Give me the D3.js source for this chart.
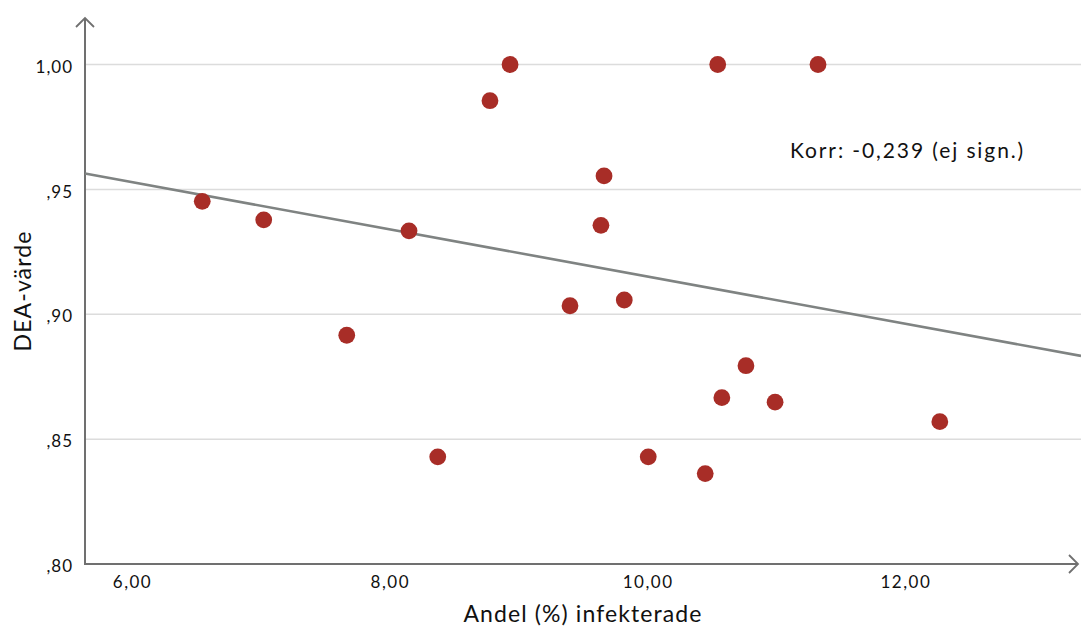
<!DOCTYPE html>
<html>
<head>
<meta charset="utf-8">
<script src="https://cdn.jsdelivr.net/npm/d3@7"></script>
<style>
  html, body { margin: 0; padding: 0; background: #fff; }
  svg { display: block; font-family: Lato, "Noto Sans", sans-serif; }
</style>
</head>
<body>
<svg id="chart" width="1081" height="628"></svg>
<script>
// ---- data ----
const infected = [6.545, 7.022, 7.666, 8.149, 8.372, 8.777, 8.933, 9.398, 9.638, 9.662,
                  9.819, 10.005, 10.447, 10.544, 10.576, 10.763, 10.989, 11.322, 12.267];
const deaValue = [0.9452, 0.9378, 0.8916, 0.9334, 0.8429, 0.9855, 1.000, 0.9034, 0.9356, 0.9554,
                  0.9057, 0.8429, 0.8362, 1.000, 0.8666, 0.8794, 0.8648, 1.000, 0.8570];
const xTicks = [6, 8, 10, 12];
const xTickLabels = ["6,00", "8,00", "10,00", "12,00"];
const yTicks = [0.80, 0.85, 0.90, 0.95, 1.00];
const yTickLabels = [",80", ",85", ",90", ",95", "1,00"];
const fitLine = [1.0096, -0.00945]; // intercept, slope
const xTitle = "Andel (%) infekterade";
const yTitle = "DEA-värde";
const corrText = "Korr: -0,239 (ej sign.)";

// ---- layout ----
const svg = d3.select("#chart");
const mLeft = 85, mRight = 1081, mBottom = 564, mTop = 18;
const x = d3.scaleLinear().domain([6, 12]).range([132, 905.4]);
const y = d3.scaleLinear().domain([0.80, 1.00]).range([564, 64.5]);
const xMin = x.invert(mLeft), xMax = x.invert(mRight);

// gridlines
svg.append("g").selectAll("line").data(yTicks.filter(d => d > 0.8)).join("line")
  .attr("x1", mLeft).attr("x2", mRight)
  .attr("y1", d => y(d)).attr("y2", d => y(d))
  .attr("stroke", "#dcdcdc").attr("stroke-width", 1.5);

// y axis via d3.axisLeft (labels only)
const yAxis = d3.axisLeft(y).tickValues(yTicks)
  .tickFormat((d, i) => yTickLabels[i]).tickSize(0).tickPadding(12);
const gy = svg.append("g").attr("transform", `translate(${mLeft},0)`).call(yAxis);
gy.select(".domain").remove();
gy.selectAll("text").attr("font-size", 17).attr("fill", "#111")
  .attr("font-family", "Lato, sans-serif").attr("dy", "0.45em").attr("letter-spacing", 1);

// x axis labels
const xAxis = d3.axisBottom(x).tickValues(xTicks)
  .tickFormat((d, i) => xTickLabels[i]).tickSize(0).tickPadding(11);
const gx = svg.append("g").attr("transform", `translate(0,${mBottom})`).call(xAxis);
gx.select(".domain").remove();
gx.selectAll("text").attr("font-size", 17).attr("fill", "#111")
  .attr("font-family", "Lato, sans-serif").attr("dy", "0.75em").attr("letter-spacing", 1.5);

// axis lines
const axisColor = "#707070";
svg.append("line").attr("x1", mLeft).attr("x2", mLeft).attr("y1", mBottom + 1).attr("y2", mTop)
  .attr("stroke", axisColor).attr("stroke-width", 2);
svg.append("line").attr("x1", mLeft - 1).attr("x2", mRight - 3).attr("y1", mBottom).attr("y2", mBottom)
  .attr("stroke", axisColor).attr("stroke-width", 2);
// arrowheads
svg.append("path").attr("d", `M${mLeft - 9},${mTop + 9} L${mLeft},${mTop} L${mLeft + 9},${mTop + 9}`)
  .attr("fill", "none").attr("stroke", axisColor).attr("stroke-width", 1.8);
svg.append("path").attr("d", `M${mRight - 12},${mBottom - 9} L${mRight - 3},${mBottom} L${mRight - 12},${mBottom + 9}`)
  .attr("fill", "none").attr("stroke", axisColor).attr("stroke-width", 1.8);

// regression line
const lineGen = d3.line().x(d => x(d)).y(d => y(fitLine[0] + fitLine[1] * d));
svg.append("path").datum([xMin, xMax]).attr("d", lineGen)
  .attr("fill", "none").attr("stroke", "#7f8382").attr("stroke-width", 2.6);

// points
svg.append("g").selectAll("circle").data(infected.map((v, i) => [v, deaValue[i]])).join("circle")
  .attr("cx", d => x(d[0])).attr("cy", d => y(d[1])).attr("r", 8.4)
  .attr("fill", "#a82d27");

// correlation text
svg.append("text").attr("x", 790).attr("y", 158).text(corrText)
  .attr("font-size", 21).attr("letter-spacing", 1.9).attr("fill", "#111");

// axis titles
svg.append("text").attr("x", (mLeft + mRight) / 2).attr("y", 622).attr("text-anchor", "middle")
  .attr("font-size", 23).attr("letter-spacing", 1.1).attr("fill", "#111").text(xTitle);
svg.append("text").attr("transform", `translate(31,${(mTop + mBottom) / 2}) rotate(-90)`)
  .attr("text-anchor", "middle").attr("font-size", 23).attr("letter-spacing", 1.1)
  .attr("fill", "#111").text(yTitle);
</script>
</body>
</html>
